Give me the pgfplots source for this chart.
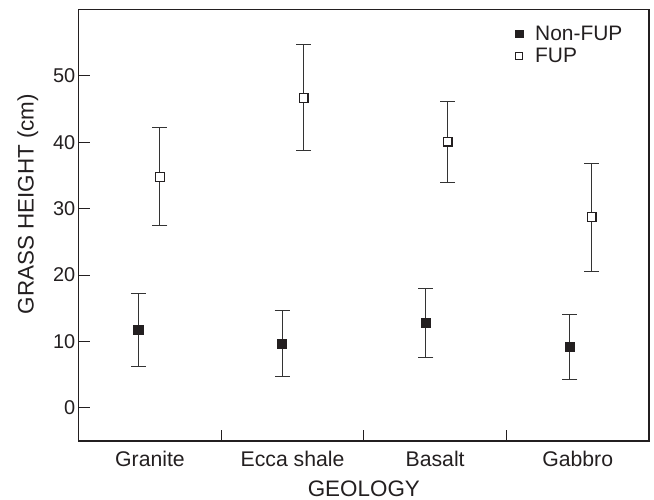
\documentclass[border=0pt]{standalone}
\usepackage{fontspec}
\setmainfont{Liberation Sans}
\usepackage{pgfplots}
\pgfplotsset{compat=1.18}
\usepackage{pgfplotstable}
\definecolor{ink}{HTML}{231F20}
\pgfplotstableread{
x y ep em
0.418 11.7 5.5 5.5
1.426 9.7 5.0 5.0
2.435 12.8 5.1 5.2
3.445 9.2 4.9 4.9
}\nonfup
\pgfplotstableread{
x y ep em
0.570 34.8 7.4 7.4
1.578 46.7 8.1 8.0
2.588 40.1 6.0 6.1
3.597 28.7 8.1 8.1
}\fup
\begin{document}
\begin{tikzpicture}
\begin{axis}[
  name=ax,
  scale only axis,
  width=570.3bp, height=431.5bp,
  xmin=0, xmax=4, ymin=-5, ymax=60,
  axis line style={ink, line width=1.1bp},
  tick style={ink, line width=1bp},
  tick align=inside,
  major tick length=11bp,
  xtick pos=bottom, ytick pos=left,
  xtick={1,2,3}, xticklabels={},
  extra x ticks={0.5,1.5,2.5,3.5},
  extra x tick labels={Granite,Ecca shale,Basalt,Gabbro},
  extra x tick style={major tick length=0pt},
  ytick={0,10,20,30,40,50},
  /pgf/number format/assume math mode=true,
  ticklabel style={font=\fontsize{20}{24}\selectfont, text=ink},
  xticklabel style={font=\fontsize{21.3}{25}\selectfont, yshift=-7bp},
  xlabel={GEOLOGY}, ylabel={GRASS HEIGHT (cm)},
  label style={font=\fontsize{22.5}{27}\selectfont, text=ink},
  xlabel style={yshift=-7bp},
  ylabel style={at={(ticklabel cs:0.549)}, yshift=8bp},
  legend style={draw=none, fill=none, at={(0.765,0.962)}, anchor=north west,
    font=\fontsize{21}{25}\selectfont, text=ink, row sep=6bp, inner sep=0pt,
    nodes={inner sep=0pt}},
  legend cell align=left,
]
\addplot[only marks, mark=square*, mark size=4.6bp, mark options={fill=ink, draw=ink, line width=0.6bp},
  error bars/.cd, y dir=both, y explicit,
  error mark=-, error mark options={rotate=90, mark size=7.5bp, line width=1bp, black!80},
  error bar style={line width=1bp, black!80},
  /pgfplots/.cd,
  legend image code/.code={
    \path[draw=none, fill=none] (0bp,0bp) -- (20bp,0bp);
    \path[draw=ink, fill=ink, line width=0.5bp] (0.3bp,-3.7bp) rectangle (7.7bp,3.7bp);
  }]
  table[x=x, y=y, y error plus=ep, y error minus=em]{\nonfup};
\addlegendentry{Non-FUP}
\addplot[only marks, mark=square*, mark size=4.4bp, mark options={fill=white, draw=ink, line width=1.2bp},
  error bars/.cd, y dir=both, y explicit,
  error mark=-, error mark options={rotate=90, mark size=7.5bp, line width=1bp, black!80},
  error bar style={line width=1bp, black!80},
  /pgfplots/.cd,
  legend image code/.code={
    \path[draw=none, fill=none] (0bp,0bp) -- (20bp,0bp);
    \path[draw=ink, fill=white, line width=1bp] (0.5bp,-3.5bp) rectangle (7.5bp,3.5bp);
  }]
  table[x=x, y=y, y error plus=ep, y error minus=em]{\fup};
\addlegendentry{FUP}
\end{axis}
\pgfresetboundingbox
\path (ax.south west) ++(-78.7bp,-59bp) coordinate (bl);
\path (ax.north east) ++(5bp,9.5bp) coordinate (tr);
\path[use as bounding box] (bl) rectangle (tr);
\end{tikzpicture}
\end{document}
